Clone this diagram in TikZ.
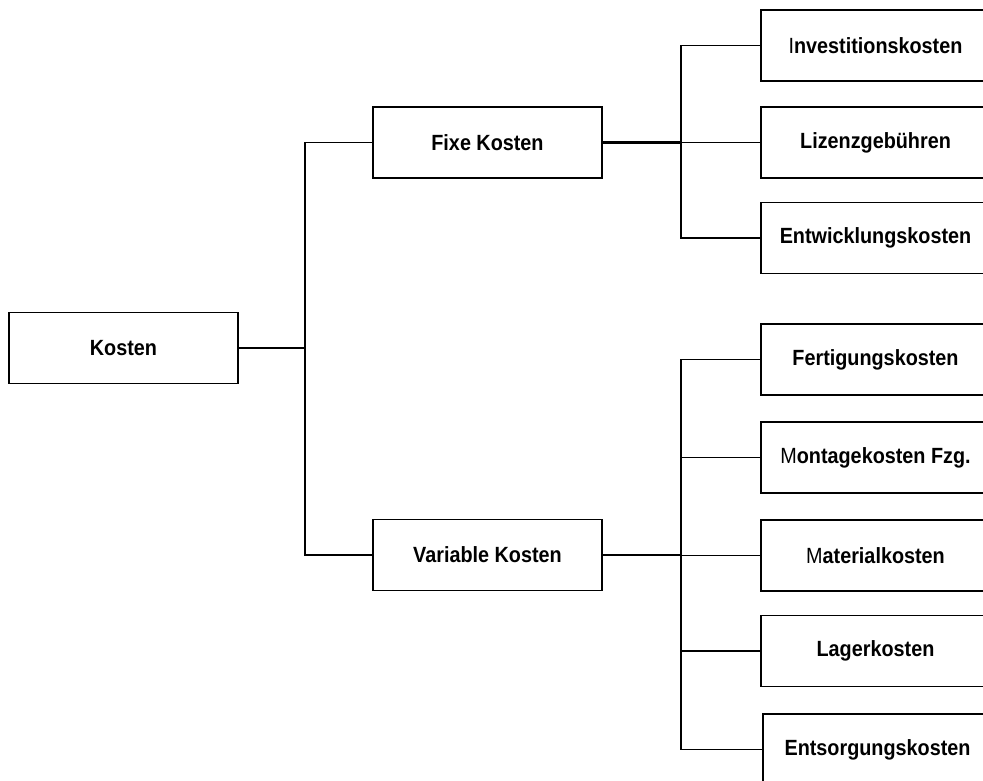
\documentclass[tikz,border=0pt]{standalone}
\usepackage{fontspec}
\setmainfont{Liberation Sans}[FakeStretch=0.9]
\begin{document}
\begin{tikzpicture}[x=1pt,y=-1pt,
  box/.style={draw, line width=1.7pt, minimum width=229pt, minimum height=71pt,
    inner sep=0pt, font=\fontsize{22}{26}\selectfont\bfseries},
  link/.style={line width=1.8pt},
  feed/.style={line width=2.4pt}]
\useasboundingbox (0,0) rectangle (983,780);
\clip (0,0) rectangle (983,780);

% root and first level
\node[box] (k)  at (123.5,348)   {Kosten};
\node[box] (fk) at (487.5,142.5) {Fixe Kosten};
\node[box] (vk) at (487.5,555)   {Variable Kosten};

% fixed cost items
\node[box] (inv) at (875.5,45.5)  {{\mdseries I}nvestitionskosten};
\node[box] (liz) at (875.5,142.5) {Lizenzgebühren};
\node[box] (ent) at (875.5,238)   {Entwicklungskosten};

% variable cost items
\node[box] (fer) at (875.5,359.5) {Fertigungskosten};
\node[box] (mon) at (875.5,457.5) {{\mdseries M}ontagekosten Fzg.};
\node[box] (mat) at (875.5,555.5) {{\mdseries M}aterialkosten};
\node[box] (lag) at (875.5,651)   {Lagerkosten};
\node[box] (ens) at (877.5,749.5) {Entsorgungskosten};

% branching points
\coordinate (tr1) at (305,348);
\coordinate (tr2) at (681,142.5);
\coordinate (tr3) at (681,555);

% Kosten -> fixe / variable
\draw[link] (k.east) -- (tr1);
\draw[link] (fk.west) -| (tr1) |- (vk.west);

% Fixe Kosten -> items
\draw[feed] (fk.east) -- (tr2);
\draw[link] (inv.west) -| (tr2) |- (ent.west);
\draw[link] (tr2) -- (liz.west);

% Variable Kosten -> items
\draw[feed] (vk.east) -- (tr3);
\draw[link] (fer.west) -| (tr3) |- (ens.west);
\draw[link] (mon.west) -- (mon.west -| tr3);
\draw[link] (mat.west) -- (mat.west -| tr3);
\draw[link] (lag.west) -- (lag.west -| tr3);
\end{tikzpicture}
\end{document}
